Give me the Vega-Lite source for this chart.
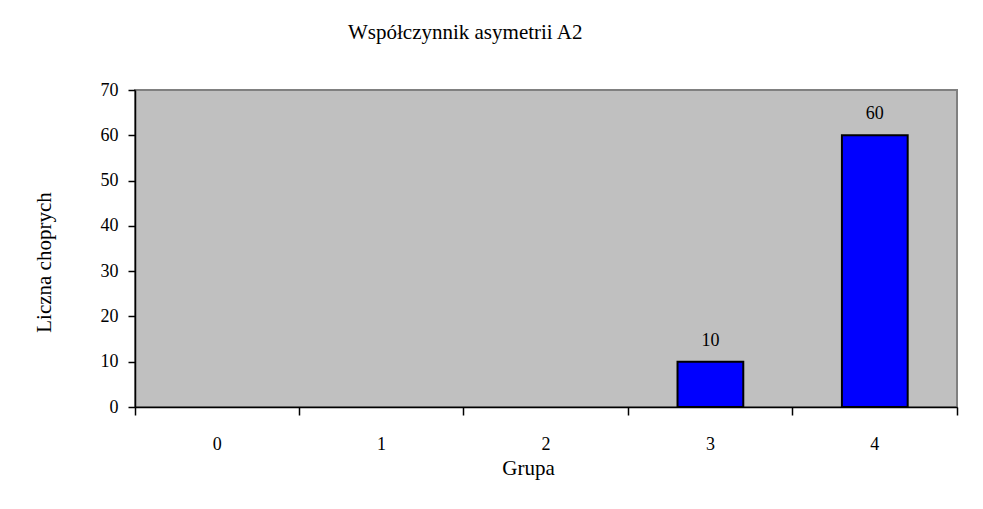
{
  "$schema": "https://vega.github.io/schema/vega-lite/v6.json",
  "autosize": {"type": "none"},
  "padding": {"left": 135, "top": 90, "right": 26, "bottom": 102},
  "width": 822,
  "height": 317,
  "background": "white",
  "title": {
    "text": "Współczynnik asymetrii A2",
    "anchor": "start",
    "dx": 315,
    "offset": 38,
    "font": "Liberation Serif",
    "fontSize": 21,
    "fontWeight": "normal",
    "color": "black"
  },
  "data": {
    "values": [
      {"grupa": "0", "liczba": 0},
      {"grupa": "1", "liczba": 0},
      {"grupa": "2", "liczba": 0},
      {"grupa": "3", "liczba": 10},
      {"grupa": "4", "liczba": 60}
    ]
  },
  "encoding": {
    "x": {
      "field": "grupa",
      "type": "ordinal",
      "scale": {"domain": ["0", "1", "2", "3", "4"], "paddingInner": 0, "paddingOuter": 0},
      "axis": {
        "title": "Grupa",
        "titleX": 393,
        "labelAngle": 0,
        "bandPosition": 1,
        "tickExtra": true,
        "labelOffset": 0,
        "labelPadding": 20,
        "tickSize": 8,
        "titlePadding": 4,
        "domainColor": "black",
        "tickColor": "black"
      }
    },
    "y": {
      "field": "liczba",
      "type": "quantitative",
      "scale": {"domain": [0, 70]},
      "axis": {
        "title": "Liczna choprych",
        "titleY": 172,
        "values": [0, 10, 20, 30, 40, 50, 60, 70],
        "grid": false,
        "tickSize": 7,
        "labelPadding": 10,
        "titlePadding": 46,
        "domainColor": "black",
        "tickColor": "black"
      }
    }
  },
  "layer": [
    {
      "transform": [{"filter": "datum.liczba > 0"}],
      "mark": {"type": "bar", "width": {"band": 0.4}, "color": "#0000FF", "stroke": "black", "strokeWidth": 2}
    },
    {
      "transform": [{"filter": "datum.liczba > 0"}],
      "mark": {"type": "text", "dy": -12, "baseline": "bottom", "font": "Liberation Serif", "fontSize": 18, "color": "black"},
      "encoding": {"text": {"field": "liczba", "type": "quantitative"}}
    }
  ],
  "config": {
    "view": {"fill": "#C0C0C0", "stroke": "#808080", "strokeWidth": 2},
    "axis": {
      "labelFont": "Liberation Serif",
      "labelFontSize": 18,
      "labelColor": "black",
      "titleFont": "Liberation Serif",
      "titleFontSize": 21,
      "titleFontWeight": "normal",
      "titleColor": "black",
      "domainWidth": 1.5,
      "tickWidth": 1.5
    }
  }
}
